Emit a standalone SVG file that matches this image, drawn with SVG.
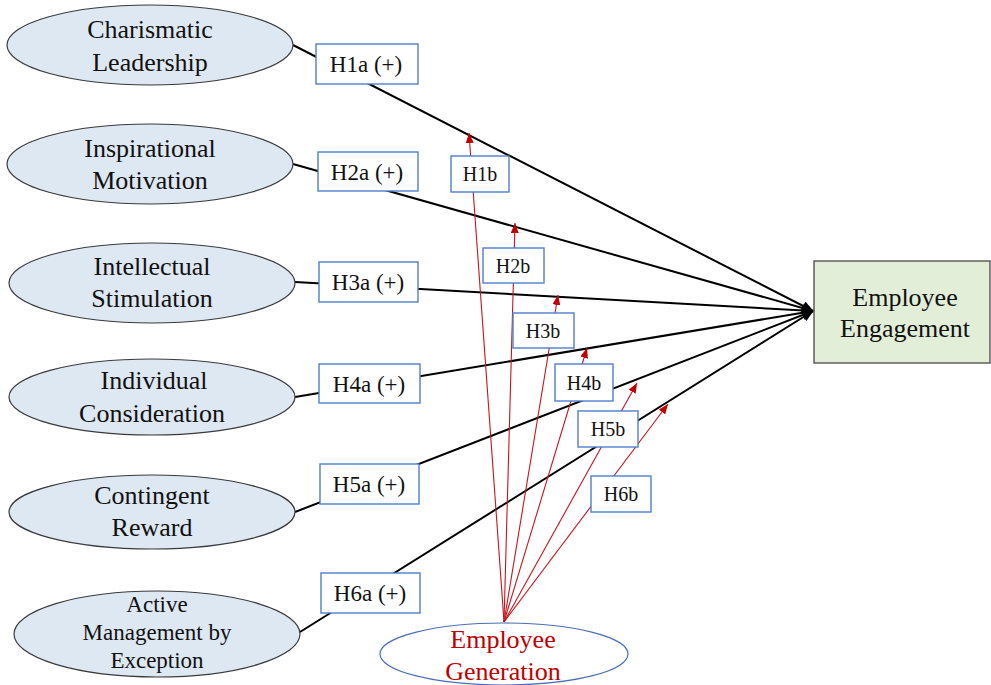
<svg xmlns="http://www.w3.org/2000/svg" width="991" height="685" viewBox="0 0 991 685">
<style>
.bg{fill:#fff}
.lead{fill:#dee8f3;stroke:#3a3a3a;stroke-width:1.2}
.t{font-family:"Liberation Serif","Times New Roman",serif;fill:#111;text-anchor:middle}
.big{font-size:26px}
.mid{font-size:23px}
.hb{font-size:20px}
.box{fill:#fff;stroke:#4f7fcc;stroke-width:1.4}
.blk{stroke:#000;stroke-width:2;fill:none;marker-end:url(#ab)}
.red{stroke:#c8141a;stroke-width:1.1;fill:none;marker-end:url(#ar)}
</style>
<defs>
<marker id="ab" markerUnits="userSpaceOnUse" markerWidth="12" markerHeight="10" refX="11" refY="5" orient="auto"><path d="M0,0 L12,5 L0,10 Z" fill="#000"/></marker>
<marker id="ar" markerUnits="userSpaceOnUse" markerWidth="10" markerHeight="8" refX="10" refY="4" orient="auto"><path d="M0,0 L10,4 L0,8 Z" fill="#c00000"/></marker>
</defs>
<rect class="bg" x="0" y="0" width="991" height="685"/>
<g id="connectors">
<line class="blk" x1="293" y1="45" x2="813" y2="311"/>
<line class="blk" x1="293" y1="164" x2="813" y2="311"/>
<line class="blk" x1="295" y1="282" x2="813" y2="311"/>
<line class="blk" x1="295" y1="397" x2="813" y2="311"/>
<line class="blk" x1="295" y1="512" x2="813" y2="311"/>
<line class="blk" x1="300" y1="632" x2="813" y2="311"/>
<line class="red" x1="504" y1="622" x2="469" y2="133"/>
<line class="red" x1="504" y1="622" x2="515" y2="223"/>
<line class="red" x1="504" y1="622" x2="558" y2="295"/>
<line class="red" x1="504" y1="622" x2="587" y2="348"/>
<line class="red" x1="504" y1="622" x2="637" y2="383"/>
<line class="red" x1="504" y1="622" x2="668" y2="404"/>
</g>
<g id="charismatic">
<ellipse class="lead" cx="150" cy="45" rx="143" ry="40"/>
<text class="t big" x="150" y="38">Charismatic</text>
<text class="t big" x="150" y="71">Leadership</text>
</g>
<g id="inspirational">
<ellipse class="lead" cx="150" cy="164" rx="143" ry="40"/>
<text class="t big" x="150" y="157">Inspirational</text>
<text class="t big" x="150" y="189">Motivation</text>
</g>
<g id="intellectual">
<ellipse class="lead" cx="152" cy="283" rx="143" ry="40"/>
<text class="t big" x="152" y="275">Intellectual</text>
<text class="t big" x="152" y="307">Stimulation</text>
</g>
<g id="individual">
<ellipse class="lead" cx="152" cy="397" rx="143" ry="38"/>
<text class="t big" x="154" y="389">Individual</text>
<text class="t big" x="152" y="422">Consideration</text>
</g>
<g id="contingent">
<ellipse class="lead" cx="152" cy="512" rx="143" ry="37"/>
<text class="t big" x="152" y="504">Contingent</text>
<text class="t big" x="152" y="536">Reward</text>
</g>
<g id="active">
<ellipse class="lead" cx="157" cy="634" rx="143" ry="43"/>
<text class="t mid" x="157" y="612">Active</text>
<text class="t mid" x="157" y="640">Management by</text>
<text class="t mid" x="157" y="668">Exception</text>
</g>
<g id="engagement">
<rect x="814" y="261" width="176" height="102" fill="#e2eed8" stroke="#555" stroke-width="1.4"/>
<text class="t big" x="905" y="306">Employee</text>
<text class="t big" x="905" y="337">Engagement</text>
</g>
<g id="generation">
<ellipse cx="504" cy="654" rx="124" ry="31" fill="#fff" stroke="#4a6fb5" stroke-width="1.2"/>
<text class="t big" x="503" y="648" style="fill:#c00000">Employee</text>
<text class="t big" x="503" y="680" style="fill:#c00000">Generation</text>
</g>
<g id="h1a"><rect class="box" x="316" y="44" width="102" height="40"/><text class="t mid" x="366" y="72">H1a (+)</text></g>
<g id="h2a"><rect class="box" x="318" y="152" width="100" height="39"/><text class="t mid" x="367" y="180">H2a (+)</text></g>
<g id="h3a"><rect class="box" x="319" y="262" width="99" height="40"/><text class="t mid" x="368" y="290">H3a (+)</text></g>
<g id="h4a"><rect class="box" x="319" y="364" width="101" height="39"/><text class="t mid" x="369" y="392">H4a (+)</text></g>
<g id="h5a"><rect class="box" x="320" y="464" width="99" height="40"/><text class="t mid" x="369" y="492">H5a (+)</text></g>
<g id="h6a"><rect class="box" x="321" y="573" width="99" height="40"/><text class="t mid" x="370" y="601">H6a (+)</text></g>
<g id="h1b"><rect class="box" x="451" y="156" width="58" height="36"/><text class="t hb" x="480" y="181">H1b</text></g>
<g id="h2b"><rect class="box" x="483" y="248" width="61" height="35"/><text class="t hb" x="513" y="273">H2b</text></g>
<g id="h3b"><rect class="box" x="513" y="313" width="61" height="35"/><text class="t hb" x="543" y="338">H3b</text></g>
<g id="h4b"><rect class="box" x="555" y="364" width="58" height="37"/><text class="t hb" x="584" y="390">H4b</text></g>
<g id="h5b"><rect class="box" x="578" y="411" width="60" height="36"/><text class="t hb" x="608" y="436">H5b</text></g>
<g id="h6b"><rect class="box" x="591" y="476" width="60" height="36"/><text class="t hb" x="621" y="501">H6b</text></g>
</svg>
